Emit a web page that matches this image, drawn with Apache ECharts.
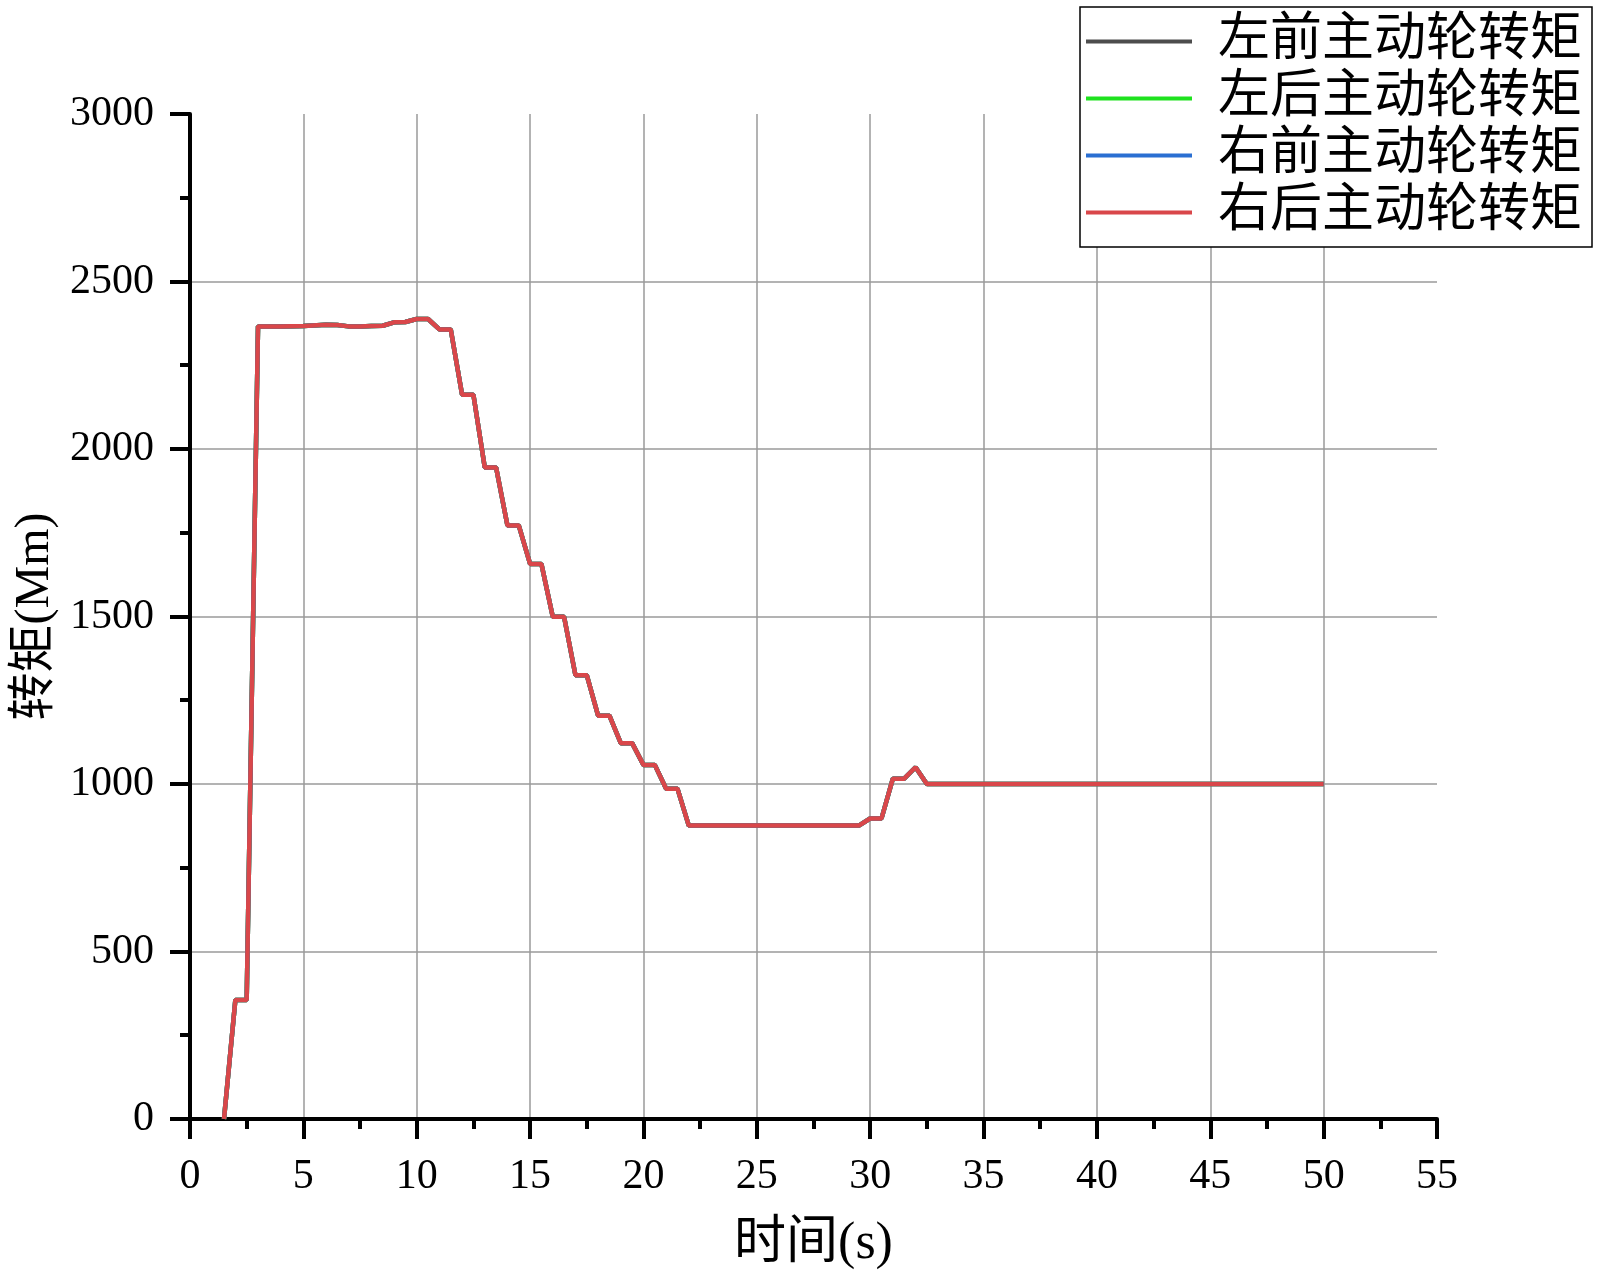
<!DOCTYPE html>
<html>
<head>
<meta charset="utf-8">
<title>主动轮转矩</title>
<script src="https://cdn.jsdelivr.net/npm/echarts@6.0.0/dist/echarts.min.js"></script>
<style>
  html, body { margin: 0; padding: 0; background: #fff; }
  #chart { width: 1600px; height: 1275px; }
</style>
</head>
<body>
<div id="chart"></div>
<script>
// 时间 (s)
var timeS = [1.5, 2, 2.5, 3, 4, 5, 6, 6.5, 7, 7.5, 8, 8.5, 9, 9.5, 10, 10.5, 11, 11.5,
  12, 12.5, 13, 13.5, 14, 14.5, 15, 15.5, 16, 16.5, 17, 17.5, 18, 18.5, 19, 19.5, 20, 20.5, 21, 21.5,
  22, 29.5, 30, 30.5, 31, 31.5, 32, 32.5, 50];
// 转矩 (四个主动轮曲线重合)
var torque = [0, 355, 355, 2366, 2366, 2367, 2371, 2370, 2366, 2366, 2367, 2368, 2378, 2379, 2388, 2388, 2357, 2357,
  2162, 2162, 1945, 1945, 1772, 1772, 1657, 1657, 1499, 1499, 1325, 1325, 1204, 1204, 1122, 1122, 1057, 1057, 986, 986,
  876, 876, 897, 897, 1016, 1016, 1050, 1000, 1000];
var seriesNames = ['左前主动轮转矩', '左后主动轮转矩', '右前主动轮转矩', '右后主动轮转矩'];
var seriesColors = ['#4d4d4d', '#1ee21e', '#2a6fd2', '#d9474a'];
var xTicks = { min: 0, max: 55, interval: 5 };
var yTicks = { min: 0, max: 3000, interval: 500 };

var serif = '"Liberation Serif", "Noto Sans CJK SC", serif';

var chart = echarts.init(document.getElementById('chart'));

// 组装数据点
var points = timeS.map(function (t, i) {
  return [t, torque[i]];
});

var axisCommon = {
  axisLine: { show: true, onZero: false, lineStyle: { color: '#000', width: 4 } },
  axisTick: { show: true, inside: false, length: 20, lineStyle: { color: '#000', width: 4 } },
  minorTick: { show: true, splitNumber: 2, length: 10, lineStyle: { color: '#000', width: 4 } },
  splitLine: { show: true, showMinLine: false, showMaxLine: false, lineStyle: { color: '#9a9a9a', width: 1.5 } },
  axisLabel: {
    color: '#000', fontSize: 42, fontFamily: serif,
    formatter: function (v) { return String(v); }  // 不要千分位
  },
  nameTextStyle: { color: '#000', fontSize: 48, fontFamily: serif }
};

var option = {
  backgroundColor: '#fff',
  animation: false,
  grid: { left: 190, right: 163, top: 114, bottom: 155, containLabel: false },
  legend: {
    orient: 'vertical',
    left: 1080,
    top: 7,
    padding: [6, 10, 6, 6],
    itemGap: 0,
    icon: 'rect',
    itemWidth: 106,
    itemHeight: 4,
    borderColor: '#000',
    borderWidth: 1.5,
    backgroundColor: '#fff',
    textStyle: { color: '#000', fontSize: 52, lineHeight: 57, fontFamily: serif, padding: [0, 0, 0, 21] },
    data: seriesNames
  },
  xAxis: Object.assign({}, axisCommon, {
    type: 'value',
    min: xTicks.min,
    max: xTicks.max,
    interval: xTicks.interval,
    name: '时间(s)',
    nameLocation: 'middle',
    nameGap: 99,
    nameTextStyle: Object.assign({}, axisCommon.nameTextStyle, { fontSize: 52 }),
    axisLabel: Object.assign({}, axisCommon.axisLabel, { margin: 37 })
  }),
  yAxis: Object.assign({}, axisCommon, {
    type: 'value',
    min: yTicks.min,
    max: yTicks.max,
    interval: yTicks.interval,
    name: '转矩(Mm)',
    nameLocation: 'middle',
    nameGap: 125,
    axisLabel: Object.assign({}, axisCommon.axisLabel, { margin: 36, padding: [6, 0, 0, 0] })
  }),
  series: seriesNames.map(function (name, i) {
    return {
      name: name,
      type: 'line',
      data: points,
      symbol: 'none',
      color: seriesColors[i],
      lineStyle: { color: seriesColors[i], width: 4.5 },
      z: 2 + i
    };
  })
};

chart.setOption(option);
</script>
</body>
</html>
